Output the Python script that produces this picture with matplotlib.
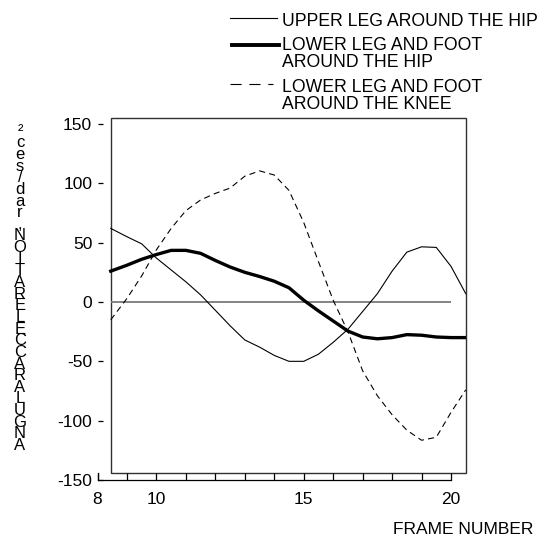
import matplotlib
matplotlib.use('Agg')
import matplotlib.pyplot as plt
from matplotlib.patches import Rectangle
from matplotlib.lines import Line2D

plt.rcParams['font.family'] = ['Liberation Sans', 'DejaVu Sans']
plt.rcParams['axes.unicode_minus'] = False

# ---------------- data ----------------
frames = [8.45, 9.0, 9.5, 10.0, 10.5, 11.0, 11.5, 12.0, 12.5, 13.0, 13.5, 14.0,
          14.5, 15.0, 15.5, 16.0, 16.5, 17.0, 17.5, 18.0, 18.5, 19.0, 19.5, 20.0, 20.5]
upper_leg_hip = [62, 55, 49, 37, 27, 17, 6, -7, -20, -32, -38, -45,
                 -50, -50, -44, -34, -23, -8, 7, 26, 42, 46.5, 46, 30, 7]
lower_leg_hip = [26, 31, 36, 40, 43.5, 43.5, 41, 35, 29.5, 25, 21.5, 17.5,
                 12, 1.5, -7.5, -16, -24.5, -29.5, -31, -30, -27.5, -28, -29.5, -30, -30]
lower_leg_knee = [-15, 3, 22, 44, 62, 77, 86, 91.5, 96, 106, 110.5, 107,
                  94, 67, 34, 1.5, -25, -58, -79, -95, -108, -116.5, -114, -93, -74]

series_names = ["UPPER LEG AROUND THE HIP",
                "LOWER LEG AND FOOT\nAROUND THE HIP",
                "LOWER LEG AND FOOT\nAROUND THE KNEE"]
x_major_ticks = [8, 10, 15, 20]
x_minor_ticks = list(range(8, 21))
y_ticks = [-150, -100, -50, 0, 50, 100, 150]
x_label = "FRAME NUMBER"
y_label = "ANGULAR ACCELERATION, rad/sec²"

# ---------------- figure ----------------
W, H = 555, 540
fig = plt.figure(figsize=(W / 100, H / 100), dpi=100)

def fx(p):
    return p / W

def fy(p):
    return 1 - p / H

px_per_frame = 29.46
px_per_unit = 1.1867
ax_left, ax_right, ax_top, ax_bottom = 97.5, 465.7, 118.3, 480.0
ax = fig.add_axes([fx(ax_left), 1 - ax_bottom / H,
                   (ax_right - ax_left) / W, (ax_bottom - ax_top) / H])
xmin = 8
xmax = xmin + (ax_right - ax_left) / px_per_frame
ymin = -150
ymax = ymin + (ax_bottom - ax_top) / px_per_unit
ax.set_xlim(xmin, xmax)
ax.set_ylim(ymin, ymax)

# inner frame box
box_x0 = xmin + (110.7 - ax_left) / px_per_frame
box_y0 = ymin + (ax_bottom - 472.7) / px_per_unit
ax.add_patch(Rectangle((box_x0, box_y0), xmax - box_x0, ymax - box_y0,
                       fill=False, edgecolor='#303030', lw=1.0, clip_on=False, zorder=1))

# zero line
ax.hlines(0, box_x0, x_minor_ticks[-1], color='#7a7a7a', lw=1.3, zorder=2)

# series
ax.plot(frames, upper_leg_hip, color='black', lw=0.8, zorder=3)
ax.plot(frames, lower_leg_hip, color='black', lw=2.4, zorder=3)
ax.plot(frames, lower_leg_knee, color='black', lw=0.8, dashes=(5.5, 3.8), zorder=3)

# axes styling
for s in ['top', 'right']:
    ax.spines[s].set_visible(False)
ax.spines['bottom'].set_bounds(x_minor_ticks[0], x_minor_ticks[-1])
ax.spines['left'].set_bounds(ymin, box_y0)
for s in ['bottom', 'left']:
    ax.spines[s].set_linewidth(0.9)

ax.set_xticks(x_major_ticks)
ax.set_xticks(x_minor_ticks, minor=True)
ax.set_xticklabels([str(v) for v in x_major_ticks])
ax.tick_params(axis='x', which='both', direction='in', length=5.3, width=0.9,
               pad=9.0, labelsize=12.5)
ax.set_yticks(y_ticks)
ax.set_yticklabels([str(v) for v in y_ticks])
ax.tick_params(axis='y', direction='in', length=3.6, width=0.9, pad=3.8, labelsize=12.5)

# x label
fig.text(fx(533), fy(530), x_label, ha='right', va='center', fontsize=12.5)

# y label: stacked characters from bottom to top
chars = [c for c in y_label if c != ' ']
fig.text(fx(20), fy(453), "\n".join(reversed(chars)), ha='center', va='bottom',
         multialignment='center', fontsize=12, linespacing=0.72)

# legend (drawn manually)
leg_lines = [(230, 276.7, 18.3, dict(lw=0.8)),
             (231.7, 279.3, 45.0, dict(lw=2.8)),
             (230, 273.3, 84.3, dict(lw=0.8, dashes=(10, 7)))]
leg_text_tops = [13.0, 36.5, 78.5]
for (x0, x1, yy, kw), name, top in zip(leg_lines, series_names, leg_text_tops):
    fig.add_artist(Line2D([fx(x0), fx(x1)], [fy(yy), fy(yy)], transform=fig.transFigure,
                          color='black', **kw))
    fig.text(fx(282), fy(top), name, ha='left', va='top', fontsize=12.7,
             linespacing=1.05)

fig.savefig('out.png', dpi=100)
